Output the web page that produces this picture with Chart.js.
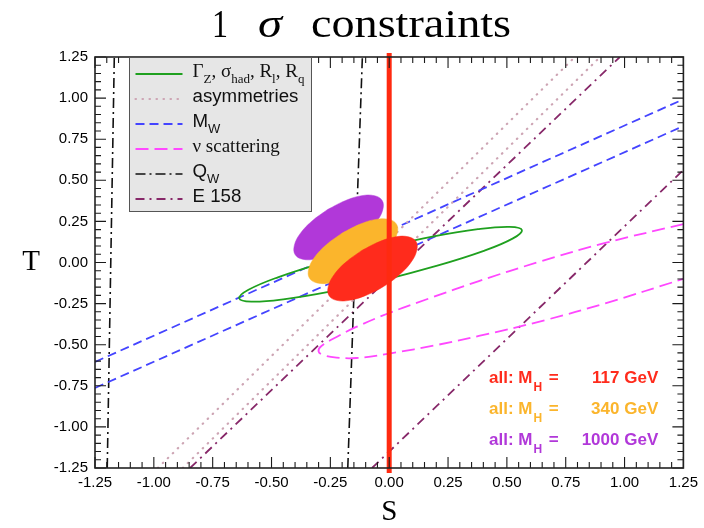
<!DOCTYPE html>
<html><head><meta charset="utf-8">
<script src="https://cdn.jsdelivr.net/npm/chart.js@4/dist/chart.umd.min.js"></script>
<style>html,body{margin:0;padding:0;background:#fff}</style>
</head><body>
<canvas id="c" width="704" height="528"></canvas>
<script>
// ---------- data (S, T) ----------
const axisMin = -1.25, axisMax = 1.25, majorStep = 0.25, minorStep = 0.05;

const gammaZEllipse = [[-0.053,0.084],[-0.281,-0.002],[-0.473,-0.090],[-0.598,-0.166],[-0.637,-0.218],[-0.586,-0.238],[-0.450,-0.224],[-0.252,-0.177],[-0.021,-0.105],[0.208,-0.018],[0.399,0.069],[0.524,0.145],[0.564,0.197],[0.512,0.217],[0.377,0.203],[0.178,0.156],[-0.053,0.084]];
const asymLineA = [[-0.983,-1.25],[0.789,1.25]];
const asymLineB = [[-0.877,-1.25],[0.896,1.25]];
const mwLineA = [[-1.25,-0.605],[1.25,0.993]];
const mwLineB = [[-1.25,-0.763],[1.25,0.830]];
const nuCurve = [[1.25,0.234],[0.918,0.119],[0.635,0.003],[0.381,-0.113],[0.169,-0.219],[0.000,-0.307],[-0.140,-0.392],[-0.212,-0.444],[-0.288,-0.508],[-0.300,-0.541],[-0.279,-0.563],[-0.224,-0.578],[-0.140,-0.581],[0.000,-0.554],[0.212,-0.499],[0.381,-0.447],[0.664,-0.350],[0.918,-0.248],[1.25,-0.100]];
const qwLineA = [[-1.198,-1.25],[-1.168,1.25]];
const qwLineB = [[-0.176,-1.25],[-0.114,1.25]];
const e158LineA = [[-0.846,-1.25],[0.980,1.25]];
const e158LineB = [[-0.073,-1.25],[1.25,0.563]];
const mh1000Ellipse = [[-0.262,0.322],[-0.329,0.251],[-0.379,0.174],[-0.403,0.104],[-0.400,0.049],[-0.368,0.020],[-0.313,0.021],[-0.243,0.050],[-0.168,0.104],[-0.101,0.175],[-0.052,0.252],[-0.027,0.323],[-0.030,0.377],[-0.062,0.406],[-0.118,0.406],[-0.187,0.376],[-0.262,0.322]];
const mh340Ellipse = [[-0.201,0.178],[-0.268,0.107],[-0.318,0.030],[-0.342,-0.041],[-0.339,-0.095],[-0.307,-0.124],[-0.252,-0.124],[-0.182,-0.094],[-0.107,-0.040],[-0.040,0.031],[0.010,0.108],[0.034,0.179],[0.031,0.233],[-0.001,0.262],[-0.057,0.262],[-0.126,0.232],[-0.201,0.178]];
const mh117Ellipse = [[-0.118,0.072],[-0.185,0.001],[-0.235,-0.076],[-0.259,-0.147],[-0.256,-0.201],[-0.224,-0.230],[-0.169,-0.230],[-0.099,-0.200],[-0.024,-0.146],[0.043,-0.075],[0.093,0.002],[0.117,0.073],[0.114,0.127],[0.082,0.156],[0.027,0.156],[-0.043,0.126],[-0.118,0.072]];
const smLine = [[0,-1.28],[0,1.275]];

const massLabels = ['117 GeV','340 GeV','1000 GeV'];
const massLabelS = [0.424, 1.143];           // left start / right end (S)
const massLabelT = [-0.736, -0.922, -1.110];  // baselines (T)

const toXY = arr => arr.map(p => ({x:p[0], y:p[1]}));

const COL = {green:'#1fa01f', asym:'rgb(205,165,180)', blue:'#4444ff', magenta:'#ff48ff',
  black:'#111111', e158:'rgb(135,40,105)', purple:'#b138d9', orange:'#fbb52c', red:'#ff2b1c', line:'#ff2a10'};

const base = {showLine:true, pointRadius:0, fill:false, tension:0, order:10};
const datasets = [
  {...base, label:'gammaZ', data:toXY(gammaZEllipse), borderColor:COL.green, borderWidth:1.8, tension:0.4},
  {...base, label:'asymA', data:toXY(asymLineA), borderColor:COL.asym, borderWidth:2.2, borderDash:[0.5,6.5], borderCapStyle:'round'},
  {...base, label:'asymB', data:toXY(asymLineB), borderColor:COL.asym, borderWidth:2.2, borderDash:[0.5,6.5], borderCapStyle:'round'},
  {...base, label:'mwA', data:toXY(mwLineA), borderColor:COL.blue, borderWidth:1.8, borderDash:[9,5]},
  {...base, label:'mwB', data:toXY(mwLineB), borderColor:COL.blue, borderWidth:1.8, borderDash:[9,5]},
  {...base, label:'nu', data:toXY(nuCurve), borderColor:COL.magenta, borderWidth:1.8, borderDash:[13,6], tension:0.4},
  {...base, label:'qwA', data:toXY(qwLineA), borderColor:COL.black, borderWidth:1.6, borderDash:[10,4,2,4]},
  {...base, label:'qwB', data:toXY(qwLineB), borderColor:COL.black, borderWidth:1.6, borderDash:[10,4,2,4]},
  {...base, label:'e158A', data:toXY(e158LineA), borderColor:COL.e158, borderWidth:1.8, borderDash:[9,5,2,5]},
  {...base, label:'e158B', data:toXY(e158LineB), borderColor:COL.e158, borderWidth:1.8, borderDash:[9,5,2,5]},
  {...base, label:'mh1000', data:toXY(mh1000Ellipse), borderColor:COL.purple, backgroundColor:COL.purple, borderWidth:0.5, fill:'shape', tension:0.4, order:4},
  {...base, label:'mh340', data:toXY(mh340Ellipse), borderColor:COL.orange, backgroundColor:COL.orange, borderWidth:0.5, fill:'shape', tension:0.4, order:3},
  {...base, label:'mh117', data:toXY(mh117Ellipse), borderColor:COL.red, backgroundColor:COL.red, borderWidth:0.5, fill:'shape', tension:0.4, order:2},
  {...base, label:'sm', data:toXY(smLine), borderColor:COL.line, borderWidth:5, order:1, clip:false}
];

// legend rows: dataset index + rich text parts [text, isSub]
const legendRows = [
  {ds:0, serif:true, parts:[['Γ',0],['Z',1],[', σ',0],['had',1],[', R',0],['l',1],[', R',0],['q',1]]},
  {ds:1, serif:false, parts:[['asymmetries',0]]},
  {ds:3, serif:false, parts:[['M',0],['W',1]]},
  {ds:5, serif:true, parts:[['ν scattering',0]]},
  {ds:6, serif:false, parts:[['Q',0],['W',1]]},
  {ds:8, serif:false, parts:[['E 158',0]]}
];

const fmt = v => (Math.abs(v) < 1e-9 ? 0 : v).toFixed(2);

const decor = {
  id:'decor',
  afterDatasetsDraw(chart){
    const {ctx, chartArea:a, scales:{x, y}} = chart;
    ctx.save();
    // inward ticks on all four sides
    ctx.strokeStyle = '#1a1a1a'; ctx.lineWidth = 1.1;
    ctx.beginPath();
    const n = Math.round((axisMax-axisMin)/minorStep);
    for (let i=0;i<=n;i++){
      const v = axisMin + i*minorStep;
      const len = (i % Math.round(majorStep/minorStep) === 0) ? 11 : 6;
      const px = x.getPixelForValue(v), py = y.getPixelForValue(v);
      ctx.moveTo(px, a.bottom); ctx.lineTo(px, a.bottom-len);
      ctx.moveTo(px, a.top); ctx.lineTo(px, a.top+len);
      ctx.moveTo(a.left, py); ctx.lineTo(a.left+len, py);
      ctx.moveTo(a.right, py); ctx.lineTo(a.right-len, py);
    }
    ctx.stroke();
    ctx.lineWidth = 1.6; ctx.strokeStyle = '#222';
    ctx.strokeRect(a.left, a.top, a.right-a.left, a.bottom-a.top);

    // legend box
    const bx = a.left + 34.5, by = a.top, bw = 182, bh = 154;
    ctx.fillStyle = '#e6e6e6'; ctx.fillRect(bx, by, bw, bh);
    ctx.strokeStyle = '#555'; ctx.lineWidth = 1; ctx.strokeRect(bx, by+0.5, bw, bh);
    legendRows.forEach((row, i) => {
      const ds = chart.data.datasets[row.ds];
      const baseY = by + 20 + i*25;
      ctx.save();
      ctx.strokeStyle = ds.borderColor; ctx.lineWidth = ds.borderWidth;
      ctx.setLineDash(ds.borderDash || []); ctx.lineCap = ds.borderCapStyle || 'butt';
      ctx.beginPath(); ctx.moveTo(bx+6, baseY-3); ctx.lineTo(bx+53, baseY-3); ctx.stroke();
      ctx.restore();
      let tx = bx + 63;
      ctx.fillStyle = '#111'; ctx.textBaseline = 'alphabetic'; ctx.textAlign = 'left';
      row.parts.forEach(([t, sub]) => {
        const fam = row.serif ? '"Liberation Serif"' : '"Liberation Sans"';
        const size = sub ? 13 : (row.serif ? 19 : 18.7);
        ctx.font = size + 'px ' + fam;
        ctx.fillText(t, tx, baseY + (sub ? 6 : 0));
        tx += ctx.measureText(t).width;
      });
    });

    // M_H annotations
    const lx = x.getPixelForValue(massLabelS[0]), rx = x.getPixelForValue(massLabelS[1]);
    const cols = [COL.red, COL.orange, COL.purple];
    massLabels.forEach((lab, i) => {
      const yy = y.getPixelForValue(massLabelT[i]);
      ctx.fillStyle = cols[i]; ctx.textAlign = 'left';
      ctx.font = 'bold 17px "Liberation Sans"';
      ctx.fillText('all: M', lx, yy);
      let w = ctx.measureText('all: M').width;
      ctx.font = 'bold 12px "Liberation Sans"';
      ctx.fillText('H', lx + w + 1, yy + 8);
      w += ctx.measureText('H').width + 1;
      ctx.font = 'bold 17px "Liberation Sans"';
      ctx.fillText(' =', lx + w + 2, yy);
      ctx.textAlign = 'right';
      ctx.fillText(lab, rx, yy);
    });
    ctx.restore();
  },
  afterDraw(chart){
    const {ctx, chartArea:a} = chart;
    ctx.save();
    ctx.fillStyle = '#000'; ctx.textBaseline = 'alphabetic'; ctx.textAlign = 'left';
    const drawStretched = (t, x0, w, font) => {
      ctx.font = font;
      const mw = ctx.measureText(t).width;
      ctx.save(); ctx.translate(x0, 37); ctx.scale(w/mw, 1); ctx.fillText(t, 0, 0); ctx.restore();
    };
    drawStretched('1', 212, 16, '40px "Liberation Serif"');
    drawStretched('σ', 258, 24, 'italic 40px "Liberation Serif"');
    drawStretched('constraints', 311, 200, '40px "Liberation Serif"');
    // axis titles
    ctx.font = '29px "Liberation Serif"'; ctx.textAlign = 'center'; ctx.textBaseline = 'middle';
    ctx.fillText('T', 31, (a.top + a.bottom)/2);
    ctx.fillText('S', (a.left + a.right)/2, 512);
    ctx.restore();
  }
};

new Chart(document.getElementById('c'), {
  type:'scatter',
  data:{datasets},
  options:{
    responsive:false, animation:false, events:[],
    layout:{padding:{top:57, right:18, left:0, bottom:0}},
    plugins:{legend:{display:false}, tooltip:{enabled:false}, title:{display:false}},
    scales:{
      x:{type:'linear', min:axisMin, max:axisMax,
         grid:{display:false, drawTicks:false}, border:{display:false},
         ticks:{stepSize:majorStep, autoSkip:false, maxRotation:0, padding:6, color:'#000',
                font:{family:'"Liberation Sans"', size:15}, callback:fmt},
         afterFit(s){ s.height = 60; }},
      y:{type:'linear', min:axisMin, max:axisMax,
         grid:{display:false, drawTicks:false}, border:{display:false},
         ticks:{stepSize:majorStep, autoSkip:false, padding:7, color:'#000',
                font:{family:'"Liberation Sans"', size:15}, callback:fmt},
         afterFit(s){ s.width = 95; }}
    }
  },
  plugins:[decor]
});
</script>
</body></html>
